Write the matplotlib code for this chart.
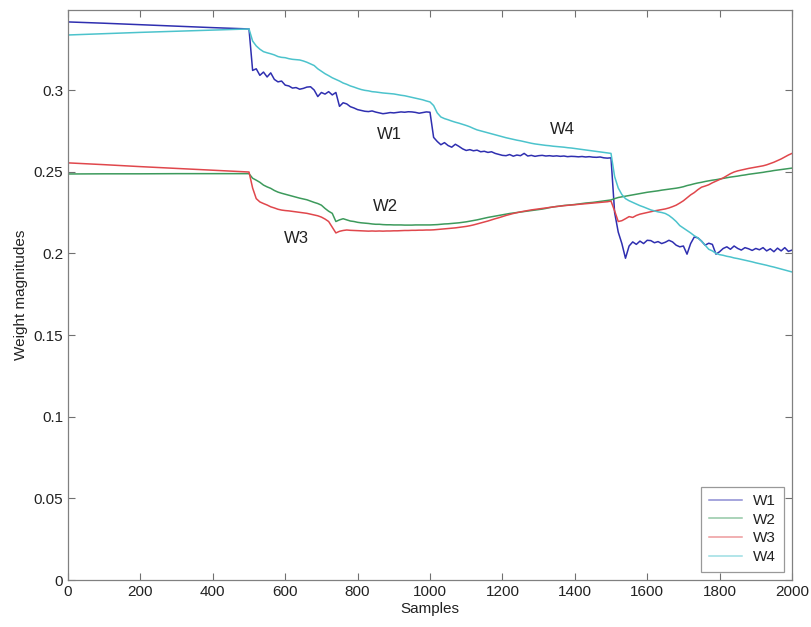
import matplotlib
matplotlib.use("Agg")
import matplotlib.pyplot as plt
import numpy as np

plt.rcParams['font.family'] = ['Liberation Sans', 'DejaVu Sans']

samples = [0, 100, 200, 300, 400, 500] + list(range(510, 2001, 10))

w1 = [0.3417, 0.3409, 0.3400, 0.3391, 0.3382, 0.3374,
      0.3120, 0.3130, 0.3090, 0.3110, 0.3080, 0.3105, 0.3065, 0.3050, 0.3055, 0.3030,
      0.3025, 0.3012, 0.3015, 0.3005, 0.3010, 0.3018, 0.3020, 0.3000, 0.2960, 0.2985,
      0.2975, 0.2990, 0.2970, 0.2985, 0.2900, 0.2922, 0.2915, 0.2898, 0.2890, 0.2880,
      0.2875, 0.2870, 0.2868, 0.2872, 0.2865, 0.2860, 0.2855, 0.2858, 0.2862, 0.2860,
      0.2863, 0.2866, 0.2864, 0.2867, 0.2866, 0.2863, 0.2858, 0.2862, 0.2866, 0.2864,
      0.2710, 0.2685, 0.2665, 0.2678, 0.2660, 0.2650, 0.2668, 0.2655, 0.2640, 0.2630,
      0.2635, 0.2628, 0.2632, 0.2622, 0.2625, 0.2618, 0.2622, 0.2612, 0.2606, 0.2600,
      0.2598, 0.2605, 0.2595, 0.2602, 0.2598, 0.2612, 0.2596, 0.2600, 0.2594, 0.2598,
      0.2600, 0.2596, 0.2598, 0.2595, 0.2597, 0.2594, 0.2596, 0.2592, 0.2594, 0.2593,
      0.2591, 0.2593, 0.2590, 0.2592, 0.2589, 0.2588, 0.2590, 0.2585, 0.2583, 0.2585,
      0.2250, 0.2130, 0.2060, 0.1970, 0.2045, 0.2070, 0.2055, 0.2075, 0.2060, 0.2080,
      0.2078, 0.2065, 0.2072, 0.2060, 0.2068, 0.2080, 0.2070, 0.2050, 0.2040, 0.2045,
      0.1995, 0.2060, 0.2100, 0.2095, 0.2075, 0.2050, 0.2062, 0.2055, 0.1995, 0.2010,
      0.2030, 0.2040, 0.2025, 0.2045, 0.2030, 0.2020, 0.2035, 0.2028, 0.2018, 0.2030,
      0.2022, 0.2035, 0.2015, 0.2028, 0.2010, 0.2032, 0.2015, 0.2035, 0.2012, 0.2020]

w2 = [0.2486, 0.2487, 0.2487, 0.2488, 0.2488, 0.2488,
      0.2460, 0.2448, 0.2435, 0.2418, 0.2407, 0.2398, 0.2385, 0.2375, 0.2368, 0.2362,
      0.2356, 0.2350, 0.2344, 0.2338, 0.2333, 0.2328, 0.2320, 0.2312, 0.2305, 0.2295,
      0.2275, 0.2258, 0.2245, 0.2195, 0.2205, 0.2212, 0.2205, 0.2198, 0.2195, 0.2190,
      0.2187, 0.2185, 0.2183, 0.2180, 0.2178, 0.2178, 0.2176, 0.2175, 0.2175, 0.2174,
      0.2174, 0.2174, 0.2173, 0.2173, 0.2173, 0.2174, 0.2174, 0.2174, 0.2174, 0.2174,
      0.2175, 0.2176, 0.2178, 0.2180, 0.2181, 0.2183, 0.2185, 0.2187, 0.2190, 0.2193,
      0.2197, 0.2201, 0.2205, 0.2210, 0.2215, 0.2220, 0.2224, 0.2228, 0.2232, 0.2236,
      0.2240, 0.2244, 0.2247, 0.2250, 0.2253, 0.2256, 0.2259, 0.2262, 0.2265, 0.2268,
      0.2271, 0.2275, 0.2280, 0.2284, 0.2287, 0.2290, 0.2293, 0.2295, 0.2297, 0.2299,
      0.2302, 0.2305, 0.2308, 0.2310, 0.2312, 0.2315, 0.2318, 0.2321, 0.2324, 0.2327,
      0.2335, 0.2342, 0.2346, 0.2350, 0.2354, 0.2358, 0.2362, 0.2366, 0.2370, 0.2374,
      0.2377, 0.2380, 0.2383, 0.2387, 0.2390, 0.2393, 0.2396, 0.2399, 0.2403, 0.2408,
      0.2415, 0.2420, 0.2426, 0.2431, 0.2435, 0.2440, 0.2444, 0.2448, 0.2451, 0.2455,
      0.2459, 0.2463, 0.2467, 0.2470, 0.2473, 0.2477, 0.2480, 0.2484, 0.2487, 0.2490,
      0.2493, 0.2496, 0.2500, 0.2503, 0.2507, 0.2510, 0.2513, 0.2516, 0.2519, 0.2522]

w3 = [0.2554, 0.2543, 0.2531, 0.2520, 0.2509, 0.2498,
      0.2400, 0.2335, 0.2315, 0.2305, 0.2296, 0.2285, 0.2278, 0.2270, 0.2265, 0.2262,
      0.2260, 0.2257, 0.2254, 0.2251, 0.2248, 0.2245, 0.2240, 0.2235, 0.2230, 0.2222,
      0.2210, 0.2195, 0.2160, 0.2125, 0.2135, 0.2140, 0.2143, 0.2141, 0.2140, 0.2139,
      0.2138, 0.2137, 0.2136, 0.2137, 0.2136, 0.2137, 0.2136, 0.2137, 0.2137, 0.2138,
      0.2138, 0.2139, 0.2140, 0.2140, 0.2141, 0.2141, 0.2142, 0.2142, 0.2143, 0.2143,
      0.2144, 0.2146, 0.2148, 0.2150, 0.2152, 0.2154, 0.2156, 0.2159, 0.2162, 0.2165,
      0.2169, 0.2174, 0.2180, 0.2186, 0.2192, 0.2198, 0.2205, 0.2212, 0.2218, 0.2225,
      0.2232, 0.2238, 0.2244, 0.2249, 0.2254, 0.2258, 0.2262, 0.2266, 0.2269, 0.2272,
      0.2275, 0.2278, 0.2281, 0.2284, 0.2287, 0.2289, 0.2292, 0.2294, 0.2296, 0.2298,
      0.2300, 0.2302, 0.2304, 0.2306, 0.2308, 0.2310, 0.2312, 0.2314, 0.2316, 0.2320,
      0.2260, 0.2195, 0.2200, 0.2212, 0.2225, 0.2220, 0.2232, 0.2240, 0.2245, 0.2250,
      0.2255, 0.2260, 0.2264, 0.2268, 0.2272, 0.2278, 0.2286, 0.2295, 0.2308, 0.2322,
      0.2340, 0.2358, 0.2372, 0.2390, 0.2405, 0.2412, 0.2420, 0.2432, 0.2442, 0.2452,
      0.2462, 0.2475, 0.2488, 0.2498, 0.2505, 0.2510, 0.2515, 0.2520, 0.2524, 0.2528,
      0.2532, 0.2536, 0.2542, 0.2550, 0.2558, 0.2568, 0.2578, 0.2590, 0.2602, 0.2612]

w4 = [0.3337, 0.3345, 0.3353, 0.3360, 0.3367, 0.3374,
      0.3300, 0.3270, 0.3250, 0.3235, 0.3228, 0.3222, 0.3215, 0.3205, 0.3200, 0.3198,
      0.3192, 0.3188, 0.3186, 0.3184, 0.3178, 0.3170, 0.3160, 0.3150, 0.3130, 0.3115,
      0.3100, 0.3088, 0.3075, 0.3065, 0.3055, 0.3043, 0.3035, 0.3025, 0.3018, 0.3010,
      0.3003, 0.2998, 0.2995, 0.2990, 0.2988, 0.2985, 0.2982, 0.2980, 0.2978, 0.2976,
      0.2972, 0.2968, 0.2965, 0.2960, 0.2955, 0.2950, 0.2945, 0.2940, 0.2933, 0.2927,
      0.2905, 0.2860, 0.2835, 0.2825, 0.2818, 0.2810, 0.2803, 0.2797, 0.2790, 0.2783,
      0.2775, 0.2765, 0.2756, 0.2750, 0.2744, 0.2738, 0.2732, 0.2726, 0.2720, 0.2714,
      0.2708, 0.2703, 0.2698, 0.2693, 0.2689, 0.2684, 0.2679, 0.2674, 0.2670, 0.2667,
      0.2664, 0.2661, 0.2659, 0.2656, 0.2654, 0.2652, 0.2650, 0.2647, 0.2645, 0.2642,
      0.2639, 0.2636, 0.2633, 0.2630, 0.2627, 0.2624, 0.2621, 0.2618, 0.2615, 0.2612,
      0.2470, 0.2400, 0.2360, 0.2335, 0.2322, 0.2312, 0.2302, 0.2292, 0.2284, 0.2275,
      0.2266, 0.2260, 0.2254, 0.2250, 0.2244, 0.2232, 0.2215, 0.2195, 0.2170, 0.2155,
      0.2140, 0.2125, 0.2108, 0.2095, 0.2075, 0.2050, 0.2025, 0.2015, 0.2000, 0.1992,
      0.1988, 0.1982, 0.1978, 0.1972, 0.1968, 0.1963, 0.1958, 0.1953, 0.1948, 0.1942,
      0.1937, 0.1932, 0.1927, 0.1921, 0.1916, 0.1910, 0.1904, 0.1898, 0.1892, 0.1886]

series_names = ["W1", "W2", "W3", "W4"]
x_ticks = list(range(0, 2001, 200))
y_ticks = [0, 0.05, 0.1, 0.15, 0.2, 0.25, 0.3]
y_tick_labels = ["0", "0.05", "0.1", "0.15", "0.2", "0.25", "0.3"]

annotations = [("W1", 889, 0.2725), ("W4", 1365, 0.2756), ("W2", 876, 0.2284), ("W3", 630, 0.2088)]

colors = ["#2f2fb0", "#3d9a5c", "#e0474c", "#4cc3cc"]

fig = plt.figure(figsize=(8.12, 6.27), dpi=100)
ax = fig.add_axes([68/812, 47/627, (792-68)/812, (580-10)/627])

for vals, name, c in zip([w1, w2, w3, w4], series_names, colors):
    ax.plot(samples, vals, color=c, lw=1.1, label=name)

ax.set_xlim(0, 2000)
ax.set_ylim(0, 0.349)
ax.set_xticks(x_ticks)
ax.set_yticks(y_ticks)
ax.set_yticklabels(y_tick_labels)
ax.tick_params(direction='in', top=True, right=True, length=5, width=0.8,
               colors='#707070', labelcolor='#222222', labelsize=11)
for sp in ax.spines.values():
    sp.set_color('#808080')
    sp.set_linewidth(0.9)

ax.set_xlabel("Samples", fontsize=11, color='#222222', labelpad=2)
ax.set_ylabel("Weight magnitudes", fontsize=11, color='#222222', labelpad=4)

for t, sx, sy in annotations:
    ax.text(sx, sy, t, fontsize=12, color='#222222', ha='center', va='center')

leg = ax.legend(loc='lower right', fontsize=11, frameon=True, fancybox=False,
                handlelength=2.2, borderpad=0.5, labelspacing=0.3,
                borderaxespad=0.55, handletextpad=0.7)
leg.get_frame().set_edgecolor('#808080')
leg.get_frame().set_linewidth(0.9)
for ln in leg.get_lines():
    ln.set_alpha(0.55)
for txt in leg.get_texts():
    txt.set_color('#222222')

fig.savefig("out.png", dpi=100)
